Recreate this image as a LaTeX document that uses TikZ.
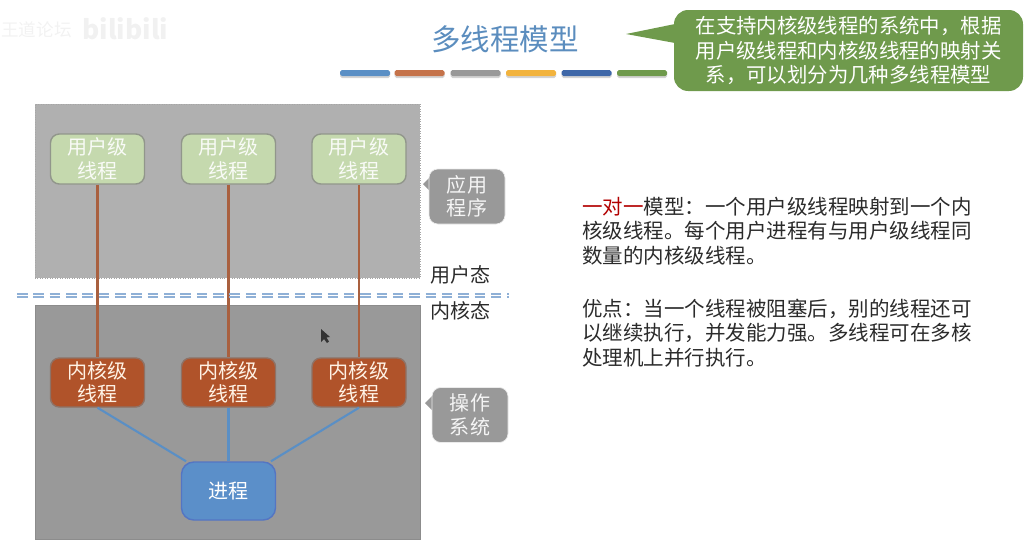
\documentclass[tikz,border=0pt]{standalone}
\usepackage{fontspec}
\setmainfont{Noto Sans CJK SC}
\usetikzlibrary{shadows}
\definecolor{titleblue}{HTML}{5B8DBE}
\definecolor{userfill}{HTML}{C5D9AE}
\definecolor{kernelfill}{HTML}{B0532A}
\definecolor{procfill}{HTML}{5B8FC9}
\definecolor{notegreen}{HTML}{6F9A4C}
\definecolor{notegray}{HTML}{999999}
\definecolor{linkbrown}{HTML}{A9603F}
\definecolor{linkblue}{HTML}{5A8FC5}
\definecolor{modeblue}{HTML}{8FB0D6}
\definecolor{barorange}{HTML}{C5734A}
\definecolor{baryellow}{HTML}{F2B33D}
\definecolor{bardeep}{HTML}{3E67A8}
\definecolor{bodytext}{HTML}{2B2B2B}
\begin{document}
\begin{tikzpicture}[
    every node/.append style={inner sep=0pt},
    % 模块样式
    userthread/.style={draw=gray!75!userfill, thick, fill=userfill, rounded corners=5pt, minimum width=1.88cm, minimum height=1cm, align=center, text=white!90!userfill, font=\fontsize{11.4}{13.4}\selectfont},
    kernelthread/.style={draw=gray!70!kernelfill, thick, fill=kernelfill, rounded corners=5pt, minimum width=1.88cm, minimum height=0.98cm, align=center, text=white!90!orange, font=\fontsize{11.4}{13.4}\selectfont},
    process/.style={draw=blue!20!procfill!80!gray, thick, fill=procfill, rounded corners=7pt, minimum width=1.88cm, minimum height=1.16cm, align=center, text=white, font=\fontsize{11.4}{13.4}\selectfont},
    sidenote/.style={draw=white!80!notegray, fill=notegray, rounded corners=5pt, minimum width=1.52cm, minimum height=1.1cm, align=center, text=white!90!notegray, font=\fontsize{11.4}{13.4}\selectfont},
    greennote/.style={fill=notegreen, rounded corners=8pt, minimum width=6.98cm, minimum height=1.62cm, align=center, text=white, font=\fontsize{11.6}{14.2}\selectfont},
    barseg/.style={rounded corners=1pt, minimum width=1cm, minimum height=0.12cm, drop shadow={opacity=0.35, shadow xshift=0cm, shadow yshift=-0.04cm}},
    modelabel/.style={anchor=west, text=bodytext, font=\fontsize{11.4}{13.4}\selectfont},
    bodytextbox/.style={anchor=north west, align=left, text=bodytext, font=\fontsize{11.66}{13.95}\selectfont},
    userlink/.style={linkbrown, line width=1.4pt},
    proclink/.style={linkblue, line width=1.2pt},
    modeline/.style={modeblue, line width=1pt, dash pattern=on 6pt off 3.3pt},
]
\useasboundingbox (0, 0) rectangle (20.48, -10.96);

% ========== 水印 ==========
\node[anchor=east, text=gray!10, font=\fontsize{10}{12}\selectfont] (markcn) at (1.44, -0.6) {王道论坛};
\node[anchor=west, text=gray!11, font=\bfseries\fontsize{15}{18}\selectfont] (markbili) at (1.64, -0.58) {bilibili};

% ========== 标题 ==========
\node[text=titleblue, font=\fontsize{16.8}{20}\selectfont] (title) at (10.1, -0.78) {多线程模型};
\node[barseg, fill=linkblue] (bar1) at (7.3, -1.46) {};
\node[barseg, fill=barorange] (bar2) at (8.39, -1.46) {};
\node[barseg, fill=gray!80] (bar3) at (9.51, -1.46) {};
\node[barseg, fill=baryellow] (bar4) at (10.62, -1.46) {};
\node[barseg, fill=bardeep] (bar5) at (11.73, -1.46) {};
\node[barseg, fill=notegreen] (bar6) at (12.84, -1.46) {};

% 标题旁的说明
\fill[notegreen] (12.52, -0.68) -- (13.5, -0.48) -- (13.5, -0.86) -- cycle;
\node[greennote] (topnote) at (16.97, -1.01) {在支持内核级线程的系统中，根据\\用户级线程和内核级线程的映射关\\系，可以划分为几种多线程模型};

% ========== 用户空间与内核空间 ==========
\node[draw=gray!70, densely dotted, fill=black!31, minimum width=7.7cm, minimum height=3.48cm] (appspace) at (4.55, -3.82) {};
\node[fill=black!40, draw=black!45, minimum width=7.7cm, minimum height=4.68cm] (osspace) at (4.55, -8.44) {};

% 用户态/内核态分界
\coordinate (modeleft) at (0.34, -5.88);
\coordinate (moderight) at (10.18, -5.88);
\coordinate (modeleftb) at (0.34, -5.94);
\coordinate (moderightb) at (10.18, -5.94);

% ========== 线程与进程 ==========
\node[userthread] (user1) at (1.95, -3.18) {用户级\\线程};
\node[userthread] (user2) at (4.57, -3.18) {用户级\\线程};
\node[userthread] (user3) at (7.18, -3.18) {用户级\\线程};
\node[kernelthread] (kernel1) at (1.95, -7.65) {内核级\\线程};
\node[kernelthread] (kernel2) at (4.57, -7.65) {内核级\\线程};
\node[kernelthread] (kernel3) at (7.18, -7.65) {内核级\\线程};
\node[process] (proc) at (4.57, -9.82) {进程};

% 映射连接
\draw[userlink] (user1.south) -- (kernel1.north);
\draw[userlink] (user2.south) -- (kernel2.north);
\draw[userlink] (user3.south) -- (kernel3.north);
\draw[proclink] (kernel1.south) -- (proc.145);
\draw[proclink] (kernel2.south) -- (proc.north);
\draw[proclink] (kernel3.south) -- (proc.35);

\draw[modeline] (modeleft) -- (moderight);
\draw[modeline] (modeleftb) -- (moderightb);

% ========== 右侧标注 ==========
\fill[notegray] (8.46, -3.68) -- (8.62, -3.52) -- (8.62, -3.84) -- cycle;
\node[sidenote] (appnote) at (9.34, -3.93) {应用\\程序};
\fill[notegray] (8.5, -8.06) -- (8.66, -7.9) -- (8.66, -8.22) -- cycle;
\node[sidenote] (osnote) at (9.4, -8.3) {操作\\系统};
\node[modelabel] (usermode) at (8.6, -5.5) {用户态};
\node[modelabel] (kernelmode) at (8.6, -6.22) {内核态};

% ========== 说明文字 ==========
\node[bodytextbox] (onetoone) at (11.64, -3.93) {\textcolor{red!70!black}{一对一}模型：一个用户级线程映射到一个内\\核级线程。每个用户进程有与用户级线程同\\数量的内核级线程。};
\node[bodytextbox] (merit) at (11.64, -5.97) {优点：当一个线程被阻塞后，别的线程还可\\以继续执行，并发能力强。多线程可在多核\\处理机上并行执行。};

% 鼠标指针
\fill[black!80] (6.42, -6.58) -- (6.42, -6.84) -- (6.48, -6.78) -- (6.54, -6.86) -- (6.58, -6.83) -- (6.53, -6.75) -- (6.6, -6.74) -- cycle;

\end{tikzpicture}
\end{document}
